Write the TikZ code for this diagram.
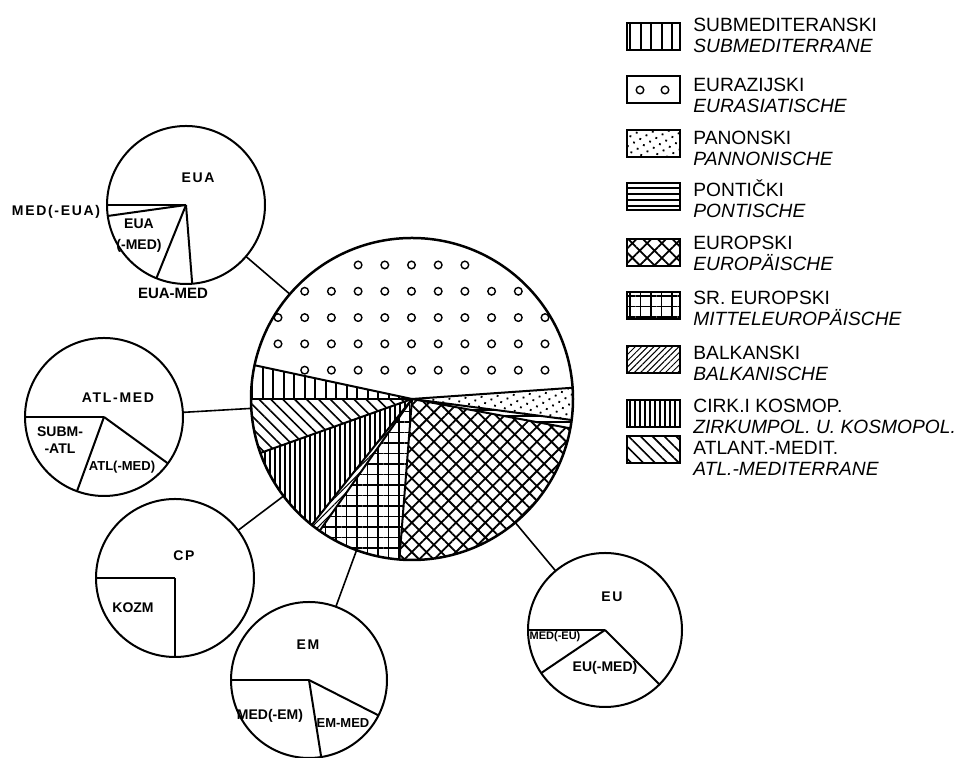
\documentclass[tikz,border=0pt]{standalone}
\usepackage{fontspec}
\setmainfont{Liberation Sans}
\newfontfamily\lblfont{Liberation Sans}[LetterSpace=12]
\usetikzlibrary{patterns.meta}
\tikzset{
  pie/.style={circle,draw,line width=1pt,inner sep=0pt,outer sep=0pt},
  sector/.style={line width=1pt},
  link/.style={line width=.8pt},
  ring/.style={line width=.7pt},
  lbl/.style={font=\lblfont\bfseries\fontsize{7}{8.5}\selectfont,inner sep=0pt,align=center},
  lbln/.style={font=\bfseries\fontsize{7}{8.5}\selectfont,inner sep=0pt,align=center},
  legbox/.style={draw,line width=1pt,minimum width=26.5pt,minimum height=13.5pt,inner sep=0pt},
  legtxt/.style={font=\fontsize{9.6}{10}\selectfont,inner sep=0pt,anchor=base west},
  submed/.style={pattern={Lines[angle=90,distance=5.25pt,line width=1pt]}},
  eurazij/.style={},
  panon/.style={pattern={Dots[angle=30,distance=3.6pt,radius=.65pt]}},
  pont/.style={pattern={Lines[angle=0,distance=3pt,line width=.6pt]}},
  europ/.style={pattern={Hatch[angle=45,distance=5.2pt,line width=.9pt]}},
  srevrop/.style={pattern={Hatch[angle=0,distance=5.25pt,line width=.7pt]}},
  balkan/.style={pattern={Lines[angle=45,distance=2.2pt,line width=.5pt]}},
  cirk/.style={pattern={Lines[angle=90,distance=2.5pt,line width=.6pt]}},
  atlmed/.style={pattern={Lines[angle=-45,distance=4.2pt,line width=.8pt]}},
}
\begin{document}
\begin{tikzpicture}[x=.5pt,y=.5pt]  % ------ Spectre des elements floristiques --------
\useasboundingbox (0,0) rectangle (959,758);
    % grand cercle
    \node[pie,line width=1.25pt,minimum size=161pt] (main) at (412,359) {};
    \foreach \a/\b/\st in {4/167.9/eurazij,167.9/180/submed,180/199.6/atlmed,
        199.6/231.5/cirk,231.5/235/balkan,235/265.5/srevrop,265.5/349.5/europ,
        349.5/352.5/pont,352.5/364/panon}
      \path[\st] (main.center) -- ++(\a:161) arc[start angle=\a,end angle=\b,radius=161] -- cycle;
    \foreach \a in {4,167.9,180,199.6,231.5,235,265.5,349.5,352.5}
      \draw[sector] (main.center) -- ++(\a:161);
    \begin{scope}  % cercles du secteur eurasiatique
    \clip (main.center) -- ++(4:161) arc[start angle=4,end angle=167.9,radius=161] -- cycle;
    \foreach \j/\a/\b in {0/3/7,1/1/9,2/0/10,3/0/10,4/1/10}
      \foreach \i in {\a,...,\b} \draw[ring] (278+26.7*\i,493-26.3*\j) circle[radius=3.8];
    \end{scope}
    % petits cercles
    \node[pie,minimum size=79pt] (eua) at (186,553) {};
    \node[pie,minimum size=79pt] (atl) at (104,341) {};
    \node[pie,minimum size=79pt] (cp) at (175,180) {};
    \node[pie,minimum size=78pt] (em) at (309,78) {};
    \node[pie,minimum size=77pt] (eu) at (605,128) {};
    \foreach \p in {eua,atl,cp,em,eu} \draw[link] (\p) -- (main);
    \foreach \a in {180,188,248,274.5} \draw[sector] (eua.center) -- ++(\a:79);
    \foreach \a in {180,250,324} \draw[sector] (atl.center) -- ++(\a:79);
    \foreach \a in {180,270} \draw[sector] (cp.center) -- ++(\a:79);
    \foreach \a in {180,279,333} \draw[sector] (em.center) -- ++(\a:78);
    \foreach \a in {180,214,315} \draw[sector] (eu.center) -- ++(\a:77);
    \node[lbl] (eua-a) at (198,580) {EUA};
    \node[lbl] (eua-b) at (56,546) {MED(-EUA)};
    \node[lbln] (eua-c) at (139,522) {EUA\\[2pt](-MED)};
    \node[lbln,font=\bfseries\fontsize{7.5}{8.5}\selectfont] (eua-d) at (173,465) {EUA-MED};
    \node[lbl] (atl-a) at (118,360) {ATL-MED};
    \node[lbln] (atl-b) at (60,318) {SUBM-\\-ATL};
    \node[lbln,font=\bfseries\fontsize{6.5}{8}\selectfont] (atl-c) at (122,291) {ATL(-MED)};
    \node[lbl] (cp-a) at (184,202) {CP};
    \node[lbln] (cp-b) at (133,150) {KOZM};
    \node[lbl] (em-a) at (308,113) {EM};
    \node[lbln] (em-b) at (270,42) {MED(-EM)};
    \node[lbln,font=\bfseries\fontsize{6.5}{8}\selectfont] (em-c) at (343,35) {EM-MED};
    \node[lbl] (eu-a) at (612,161) {EU};
    \node[lbln,font=\bfseries\fontsize{5.5}{7}\selectfont] (eu-b) at (555,121) {MED(-EU)};
    \node[lbln] (eu-c) at (605,90) {EU(-MED)};
    % legende
    \foreach \n/\st/\yb/\yt/\ta/\tb in {1/submed/721.5/726/{SUBMEDITERANSKI}/{SUBMEDITERRANE},
        2/eurazij/668/666/{EURAZIJSKI}/{EURASIATISCHE},
        3/panon/614/613/{PANONSKI}/{PANNONISCHE},
        4/pont/561/561/{PONTIČKI}/{PONTISCHE},
        5/europ/505.5/508/{EUROPSKI}/{EUROPÄISCHE},
        6/srevrop/452.5/453/{SR. EUROPSKI}/{MITTELEUROPÄISCHE},
        7/balkan/398/398/{BALKANSKI}/{BALKANISCHE},
        8/cirk/344.5/345/{CIRK.I KOSMOP.}/{ZIRKUMPOL. U. KOSMOPOL.},
        9/atlmed/308.5/303/{ATLANT.-MEDIT.}/{ATL.-MEDITERRANE}}{
      \node[legbox,\st] (box\n) at (653.5,\yb) {};
      \node[legtxt] (txa\n) at (693,\yt) {\ta};
      \node[legtxt,font=\fontsize{9.6}{10}\selectfont\itshape] (txb\n) at (693,\yt-21) {\tb};
    }
    \draw[ring] (640,668) circle[radius=3.8];  \draw[ring] (665,668) circle[radius=3.8];
\end{tikzpicture}
\end{document}
